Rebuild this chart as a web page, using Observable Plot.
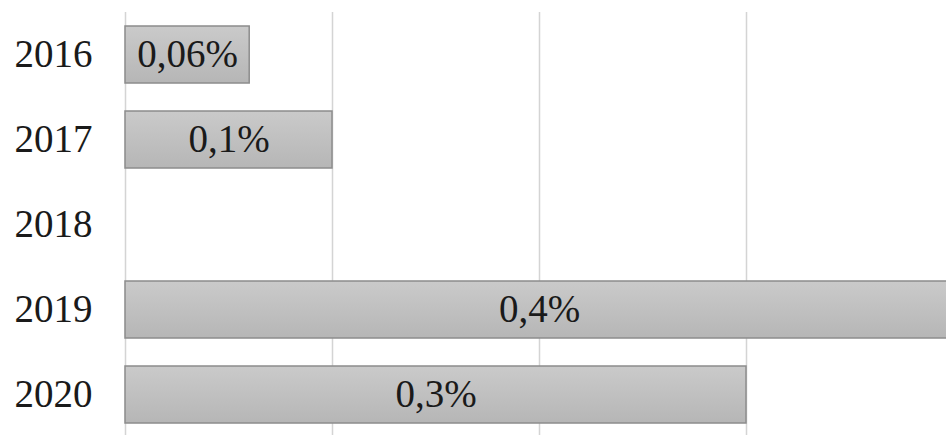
<!DOCTYPE html>
<html>
<head>
<meta charset="utf-8">
<script src="https://cdn.jsdelivr.net/npm/d3@7"></script>
<script src="https://cdn.jsdelivr.net/npm/@observablehq/plot@0.6"></script>
<style>
  html, body { margin: 0; padding: 0; background: #fff; overflow: hidden; }
  svg { overflow: hidden; }
</style>
</head>
<body>
<div id="chart"></div>
<script>
const years = ["2016", "2017", "2018", "2019", "2020"];
const values = [0.06, 0.1, null, 0.4, 0.3];
const valueLabels = ["0,06%", "0,1%", "", "0,4%", "0,3%"];
const xTicks = [0, 0.1, 0.2, 0.3, 0.4];

const data = years.map((y, i) => ({year: y, value: values[i], label: valueLabels[i]}));
const barData = data.filter(d => d.value != null);

const font = "'Liberation Serif', 'Times New Roman', serif";

const chart = Plot.plot({
  width: 946,
  height: 435,
  marginTop: 12,
  marginBottom: 0,
  marginLeft: 125,
  marginRight: 0,
  style: {fontFamily: font, fontSize: "39px", color: "#1a1a1a", background: "#fff"},
  x: {domain: [0, 0.4], range: [125, 953], axis: null},
  y: {domain: years, range: [10.75, 438.25], paddingInner: 0.333, paddingOuter: 0.1665, label: null, tickSize: 0, tickPadding: 33},
  marks: [
    Plot.ruleX(xTicks, {stroke: "#d4d4d4", strokeWidth: 1.5}),
    Plot.barX(barData, {x: "value", y: "year", fill: "url(#barGrad)", stroke: "#8c8c8c", strokeWidth: 1.5}),
    Plot.text(barData, {x: d => d.value / 2, y: "year", text: "label", fill: "#1a1a1a", fontSize: 39, fontFamily: font}),
    Plot.axisY({tickSize: 0, tickPadding: 33, fontSize: 39, fontFamily: font, fill: "#1a1a1a", label: null})
  ]
});

const defs = document.createElementNS("http://www.w3.org/2000/svg", "defs");
defs.innerHTML = `<linearGradient id="barGrad" x1="0" y1="0" x2="0" y2="1">
  <stop offset="0" stop-color="#cacaca"/>
  <stop offset="1" stop-color="#b6b6b6"/>
</linearGradient>`;
chart.insertBefore(defs, chart.firstChild);
document.getElementById("chart").appendChild(chart);
</script>
</body>
</html>
